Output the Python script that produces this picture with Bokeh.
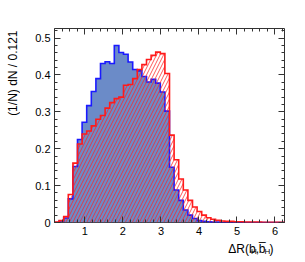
import math
from bokeh.plotting import figure
from bokeh.models import Range1d, FixedTicker, LinearAxis, Label
from bokeh.layouts import column, row
from bokeh.embed import file_html
from bokeh.resources import INLINE

# ---- data -------------------------------------------------------------
bin_start = 0.2
bin_width = 0.121
n_bins = 50

blue_vals = [0.0, 0.004, 0.012, 0.064, 0.152, 0.225, 0.272, 0.317, 0.355, 0.390,
             0.431, 0.436, 0.431, 0.480, 0.461, 0.456, 0.435, 0.415, 0.411, 0.396,
             0.381, 0.388, 0.378, 0.354, 0.302, 0.150, 0.088, 0.060, 0.034, 0.020,
             0.011, 0.005, 0.003, 0.002, 0.001, 0.001, 0.0, 0.0, 0.0, 0.0,
             0.0, 0.0, 0.0, 0.0, 0.0, 0.0, 0.0, 0.0, 0.0, 0.0]

red_vals = [0.001, 0.005, 0.016, 0.076, 0.161, 0.213, 0.240, 0.248, 0.262, 0.280,
            0.290, 0.310, 0.325, 0.336, 0.340, 0.372, 0.374, 0.390, 0.415, 0.428,
            0.442, 0.453, 0.462, 0.458, 0.404, 0.237, 0.170, 0.118, 0.088, 0.060,
            0.042, 0.030, 0.020, 0.013, 0.009, 0.006, 0.004, 0.003, 0.003, 0.002,
            0.002, 0.001, 0.001, 0.001, 0.001, 0.0006, 0.0006, 0.0006, 0.0006, 0.0006]

x_ticks = [1, 2, 3, 4, 5, 6]
y_ticks = [0.0, 0.1, 0.2, 0.3, 0.4, 0.5]
y_tick_labels = ["0", "0.1", "0.2", "0.3", "0.4", "0.5"]

y_title = "(1/N) dN / 0.121"

# ---- geometry ---------------------------------------------------------
SW = 20                      # left strip (y title)
W, H = 280, 240              # main figure
ML, MR, MT, MB = 54 - SW, 16, 28, 18
HB = 18                      # bottom strip (x title)
TOTAL_H = H + HB
x0, x1 = 0.2, 6.25
y0, y1 = 0.0, 0.526

edges = [bin_start + bin_width * i for i in range(n_bins + 1)]


def stairs(vals):
    xs, ys = [edges[0]], [0.0]
    for i, v in enumerate(vals):
        xs += [edges[i], edges[i + 1]]
        ys += [v, v]
    xs.append(edges[-1])
    ys.append(0.0)
    return xs, ys


p = figure(width=W, height=H, output_backend="svg", toolbar_location=None,
           x_range=Range1d(x0, x1), y_range=Range1d(y0, y1),
           min_border_left=ML, min_border_right=MR, min_border_top=MT,
           min_border_bottom=MB, x_axis_location=None, y_axis_location=None)
p.background_fill_color = "white"
p.border_fill_color = "white"
p.outline_line_color = "#333333"
p.outline_line_width = 1
p.xgrid.visible = False
p.ygrid.visible = False

bx, by = stairs(blue_vals)
rx, ry = stairs(red_vals)

p.patch(bx, by, fill_color="#6b8bc8", fill_alpha=1.0, line_color=None)
p.line(bx, by, line_color="#1a1aff", line_width=1.6, line_join="miter")
p.patch(rx, ry, fill_color=None, fill_alpha=0.0, line_color=None,
        hatch_pattern="/", hatch_color="#ff2020", hatch_alpha=0.75,
        hatch_scale=7, hatch_weight=1)
p.line(rx, ry, line_color="#ff1a1a", line_width=1.6, line_join="miter")

xminor = [round(0.2 + 0.2 * i, 3) for i in range(31)]
yminor = [round(0.02 * i, 3) for i in range(27)]

font = "Liberation Sans"


def style_axis(ax, labels=True):
    ax.axis_line_color = None
    ax.major_tick_in = 6
    ax.major_tick_out = 0
    ax.minor_tick_in = 3
    ax.minor_tick_out = 0
    ax.major_tick_line_color = "#333333"
    ax.minor_tick_line_color = "#333333"
    ax.major_label_text_font = font
    ax.major_label_text_font_size = "11px"
    ax.major_label_text_color = "black"
    if not labels:
        ax.major_label_text_font_size = "0px"
        ax.major_label_text_alpha = 0


xb = LinearAxis(ticker=FixedTicker(ticks=x_ticks, minor_ticks=xminor))
style_axis(xb)
xb.major_label_standoff = 4
p.add_layout(xb, "below")

xt = LinearAxis(ticker=FixedTicker(ticks=x_ticks, minor_ticks=xminor))
style_axis(xt, labels=False)
xt.major_label_standoff = 0
p.add_layout(xt, "above")

yl = LinearAxis(ticker=FixedTicker(ticks=y_ticks, minor_ticks=yminor))
style_axis(yl)
yl.major_label_standoff = 4
yl.major_label_overrides = {t: s for t, s in zip(y_ticks, y_tick_labels)}
p.add_layout(yl, "left")

yr = LinearAxis(ticker=FixedTicker(ticks=y_ticks, minor_ticks=yminor))
style_axis(yr, labels=False)
yr.major_label_standoff = 0
p.add_layout(yr, "right")


def strip(w, h):
    f = figure(width=w, height=h, output_backend="svg", toolbar_location=None,
               x_range=Range1d(0, w), y_range=Range1d(0, h),
               min_border_left=0, min_border_right=0, min_border_top=0,
               min_border_bottom=0, x_axis_location=None, y_axis_location=None)
    f.outline_line_color = None
    f.background_fill_color = "white"
    f.border_fill_color = "white"
    f.xgrid.visible = False
    f.ygrid.visible = False
    return f


# ---- y title strip (rotated, top-aligned) -----------------------------
s = strip(SW, TOTAL_H)
s.add_layout(Label(x=5, y=TOTAL_H - 30, text=y_title, angle=math.pi / 2,
                   text_align="right", text_baseline="top",
                   text_font=font, text_font_size="12px", text_color="black"))

# ---- x title strip: ΔR(b_H, b̄_H) --------------------------------------
q = strip(W, HB)
xpos = 231.5 - SW
pieces = [("ΔR(b", 12, HB - 8, 27.6), ("H", 8, HB - 11, 6.0),
          (",", 12, HB - 8, 3.6), ("b\u0305", 12, HB - 8, 6.9),
          ("H", 8, HB - 11, 6.0), (")", 12, HB - 8, 4.0)]
for txt, fs, yy, w in pieces:
    q.add_layout(Label(x=xpos, y=yy, text=txt, text_align="left",
                       text_baseline="alphabetic", text_font=font,
                       text_font_size=f"{fs}px", text_color="black"))
    xpos += w

layout = row(s, column(p, q, spacing=0), spacing=0)
open("out.html", "w").write(file_html(layout, INLINE))
